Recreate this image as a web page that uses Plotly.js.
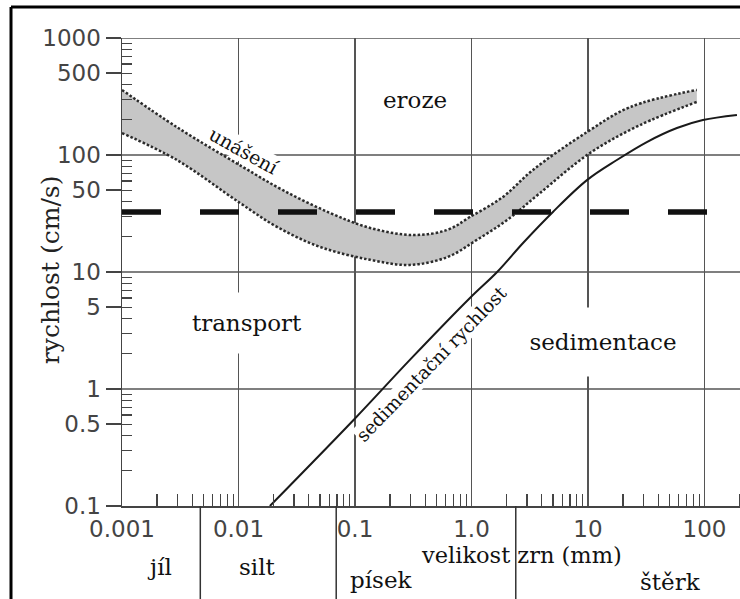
<!DOCTYPE html>
<html><head><meta charset="utf-8">
<script src="https://cdn.plot.ly/plotly-3.0.1.min.js"></script>
<style>html,body{margin:0;padding:0;background:#fff;}#chart{width:740px;height:599px;}</style>
</head><body><div id="chart"></div>
<script>
// Hjulström diagram – grain size (mm) vs. velocity (cm/s)
const grainUpper = [0.001, 0.00296, 0.0109, 0.0241, 0.061, 0.135, 0.315, 0.62, 0.97, 1.86, 3.37, 9.8, 23, 86];
const velUpper   = [360, 173, 79, 50, 32, 23.8, 20.7, 22.9, 29.5, 43.8, 74.5, 157, 257, 360];
const grainLower = [0.001, 0.00296, 0.0103, 0.0214, 0.050, 0.135, 0.296, 0.62, 1.11, 2.02, 3.87, 10.4, 27.9, 86];
const velLower   = [154, 90.6, 38.9, 24.3, 16.4, 12.7, 11.5, 13.4, 18.8, 27.8, 47.3, 104, 180, 284];
const grainSettle = [0.0186, 0.1, 0.3, 0.97, 1.66, 2.77, 5.0, 9.8, 17.7, 32, 58, 97, 190];
const velSettle   = [0.1, 0.56, 1.8, 6.0, 10, 17.7, 32.6, 61, 90.6, 129, 170, 199, 220];
const grainRef = [0.001, 107];
const velRef   = [32.6, 32.6];
const xTickVals = [0.001, 0.01, 0.1, 1, 10, 100];
const xTickText = ['0.001', '0.01', '0.1', '1.0', '10', '100'];
const yTickVals = [0.1, 0.5, 1, 5, 10, 50, 100, 500, 1000];
const yTickText = ['0.1', '0.5', '1', '5', '10', '50', '100', '500', '1000'];
const yGrid = [1, 10, 100, 1000];
const classBounds = [0.0047, 0.069, 2.4];
const classNames = ['jíl', 'silt', 'písek', 'štěrk'];
const classLabelX = [0.0021, 0.0147, 0.167, 51];
const classLabelY = [-0.130, -0.130, -0.158, -0.162];

function minorVals(lo, hi) {
  const out = [];
  for (let e = lo; e < hi; e++) for (let m = 2; m <= 9; m++) out.push(m * Math.pow(10, e));
  return out;
}

const serif = 'DejaVu Serif';
const ink = '#2a2a2a';

const traces = [
  { x: grainLower, y: velLower, mode: 'lines', line: { color: ink, width: 2.5, dash: '2.5px,2px', shape: 'spline', smoothing: 1 }, hoverinfo: 'skip' },
  { x: grainUpper, y: velUpper, mode: 'lines', line: { color: ink, width: 2.5, dash: '2.5px,2px', shape: 'spline', smoothing: 1 },
    fill: 'tonexty', fillcolor: '#c6c6c6', hoverinfo: 'skip' },
  { x: grainSettle, y: velSettle, mode: 'lines', line: { color: '#1a1a1a', width: 2, shape: 'spline', smoothing: 1 }, hoverinfo: 'skip' }
];

const shapes = [];
yGrid.forEach(v => shapes.push({ type: 'line', xref: 'paper', x0: 0, x1: 1, yref: 'y', y0: v, y1: v, layer: 'below', line: { color: '#555', width: 1.3 } }));
classBounds.forEach(b => shapes.push({ type: 'line', xref: 'x', x0: b, x1: b, yref: 'paper', y0: 0, y1: -0.2, line: { color: '#333', width: 1.5 } }));
// dashed reference velocity line (drawn through the data axes)
shapes.push({ type: 'line', xref: 'x', yref: 'y', x0: grainRef[0], x1: grainRef[1], y0: velRef[0], y1: velRef[1], layer: 'above',
  line: { color: '#111', width: 5.5, dash: '39px,39px' } });
// outer frame
shapes.push({ type: 'line', xref: 'paper', yref: 'paper', x0: -0.1796, x1: 1.01, y0: 1.0662, y1: 1.0662, line: { color: '#000', width: 3 } });
shapes.push({ type: 'line', xref: 'paper', yref: 'paper', x0: -0.1796, x1: -0.1796, y0: 1.0662, y1: -0.21, line: { color: '#000', width: 3 } });

const L = Math.log10;
const annotations = [
  { x: L(0.327), y: L(295), xref: 'x', yref: 'y', text: 'eroze', showarrow: false, font: { family: serif, size: 23, color: '#111' } },
  { x: L(0.0118), y: L(3.67), xref: 'x', yref: 'y', text: 'transport', showarrow: false, font: { family: serif, size: 23, color: '#111' },
    bgcolor: '#fff', width: 112, height: 58 },
  { x: L(13.5), y: L(2.52), xref: 'x', yref: 'y', text: 'sedimentace', showarrow: false, font: { family: serif, size: 23, color: '#111' },
    bgcolor: '#fff', width: 150, height: 66 },
  { x: L(0.0112), y: L(108), xref: 'x', yref: 'y', text: 'unášení', showarrow: false, textangle: 29, font: { family: serif, size: 19, color: '#111' },
    bgcolor: '#fff', borderpad: 0 },
  { x: L(0.458), y: L(1.64), xref: 'x', yref: 'y', text: 'sedimentační rychlost', showarrow: false, textangle: -46, font: { family: serif, size: 18.5, color: '#111' },
    bgcolor: '#fff', borderpad: 0 },
  { x: -0.1165, y: 0.504, xref: 'paper', yref: 'paper', xanchor: 'center', yanchor: 'middle', text: 'rychlost (cm/s)', showarrow: false, textangle: -90,
    font: { family: serif, size: 25, color: '#222' } },
  { x: L(2.71), y: -0.105, xref: 'x', yref: 'paper', xanchor: 'center', yanchor: 'middle', text: 'velikost zrn (mm)', showarrow: false,
    font: { family: serif, size: 22.5, color: '#111' } }
];
classNames.forEach((n, i) => annotations.push({ x: L(classLabelX[i]), y: classLabelY[i], xref: 'x', yref: 'paper', xanchor: 'center', yanchor: 'middle',
  text: n, showarrow: false, font: { family: serif, size: 23, color: '#111' } }));

const layout = {
  width: 740, height: 599,
  margin: { l: 122, r: 0, t: 38, b: 93 },
  paper_bgcolor: '#fff', plot_bgcolor: 'rgba(0,0,0,0)',
  showlegend: false,
  xaxis: {
    type: 'log', range: [-3, 2.305], tickvals: xTickVals, ticktext: xTickText,
    ticks: '', ticklabelstandoff: 2, showgrid: true, gridcolor: '#555', gridwidth: 1.3,
    showline: true, linecolor: '#444', linewidth: 1.5, zeroline: false,
    tickfont: { family: 'DejaVu Sans', size: 23, color: '#444' },
    minor: { tickvals: minorVals(-3, 3), ticks: 'inside', ticklen: 12, tickwidth: 1.2, tickcolor: '#444', showgrid: false },
    fixedrange: true
  },
  yaxis: {
    type: 'log', range: [-1, 3], tickvals: yTickVals, ticktext: yTickText,
    ticks: 'outside', ticklen: 15, tickwidth: 1.5, tickcolor: '#444', showgrid: false,
    showline: true, linecolor: '#444', linewidth: 1.5, zeroline: false,
    tickfont: { family: 'DejaVu Sans', size: 23, color: '#444' },
    minor: { tickvals: minorVals(-1, 3), ticks: 'inside', ticklen: 10, tickwidth: 1.2, tickcolor: '#444', showgrid: false },
    fixedrange: true
  },
  shapes: shapes,
  annotations: annotations
};

Plotly.newPlot('chart', traces, layout, { displayModeBar: false, staticPlot: true });
</script>
</body></html>
